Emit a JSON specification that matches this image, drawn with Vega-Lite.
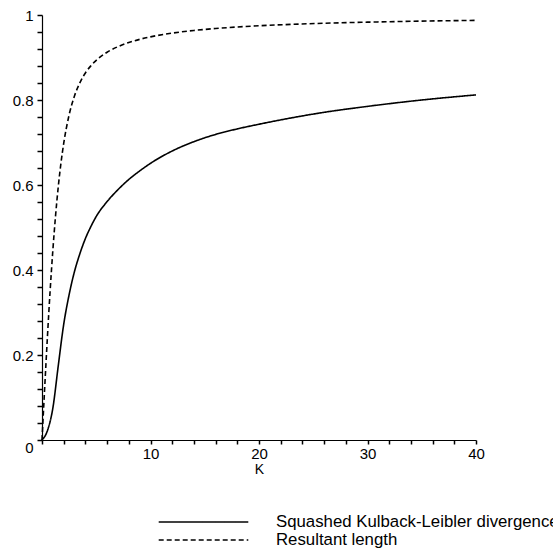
{
  "$schema": "https://vega.github.io/schema/vega-lite/v6.json",
  "width": 434,
  "height": 425,
  "autosize": {"type": "none"},
  "padding": {"left": 42, "top": 15, "right": 77, "bottom": 108},
  "background": "white",
  "config": {
    "view": {"stroke": null},
    "font": "Liberation Sans",
    "axis": {"grid": false, "domainColor": "black", "domainWidth": 1.2, "labelColor": "black", "titleColor": "black", "labelFont": "Liberation Sans", "titleFont": "Liberation Sans", "labelFontSize": 15, "labelOverlap": false}
  },
  "data": {
    "values": [
      {"k": 0, "v": 0, "s": "Squashed Kulback-Leibler divergence"},
      {"k": 0.5, "v": 0.022, "s": "Squashed Kulback-Leibler divergence"},
      {"k": 1, "v": 0.075, "s": "Squashed Kulback-Leibler divergence"},
      {"k": 1.5, "v": 0.175, "s": "Squashed Kulback-Leibler divergence"},
      {"k": 2, "v": 0.272, "s": "Squashed Kulback-Leibler divergence"},
      {"k": 2.5, "v": 0.342, "s": "Squashed Kulback-Leibler divergence"},
      {"k": 3, "v": 0.397, "s": "Squashed Kulback-Leibler divergence"},
      {"k": 3.5, "v": 0.439, "s": "Squashed Kulback-Leibler divergence"},
      {"k": 4, "v": 0.474, "s": "Squashed Kulback-Leibler divergence"},
      {"k": 4.5, "v": 0.502, "s": "Squashed Kulback-Leibler divergence"},
      {"k": 5, "v": 0.526, "s": "Squashed Kulback-Leibler divergence"},
      {"k": 6, "v": 0.561, "s": "Squashed Kulback-Leibler divergence"},
      {"k": 7, "v": 0.589, "s": "Squashed Kulback-Leibler divergence"},
      {"k": 8, "v": 0.613, "s": "Squashed Kulback-Leibler divergence"},
      {"k": 9, "v": 0.633, "s": "Squashed Kulback-Leibler divergence"},
      {"k": 10, "v": 0.651, "s": "Squashed Kulback-Leibler divergence"},
      {"k": 12, "v": 0.68, "s": "Squashed Kulback-Leibler divergence"},
      {"k": 14, "v": 0.702, "s": "Squashed Kulback-Leibler divergence"},
      {"k": 16, "v": 0.719, "s": "Squashed Kulback-Leibler divergence"},
      {"k": 18, "v": 0.732, "s": "Squashed Kulback-Leibler divergence"},
      {"k": 20, "v": 0.743, "s": "Squashed Kulback-Leibler divergence"},
      {"k": 23, "v": 0.758, "s": "Squashed Kulback-Leibler divergence"},
      {"k": 26, "v": 0.771, "s": "Squashed Kulback-Leibler divergence"},
      {"k": 30, "v": 0.785, "s": "Squashed Kulback-Leibler divergence"},
      {"k": 35, "v": 0.8, "s": "Squashed Kulback-Leibler divergence"},
      {"k": 40, "v": 0.812, "s": "Squashed Kulback-Leibler divergence"},
      {"k": 0, "v": 0, "s": "Resultant length"},
      {"k": 0.25, "v": 0.124, "s": "Resultant length"},
      {"k": 0.5, "v": 0.2425, "s": "Resultant length"},
      {"k": 0.75, "v": 0.3515, "s": "Resultant length"},
      {"k": 1, "v": 0.4464, "s": "Resultant length"},
      {"k": 1.25, "v": 0.528, "s": "Resultant length"},
      {"k": 1.5, "v": 0.5961, "s": "Resultant length"},
      {"k": 1.75, "v": 0.6521, "s": "Resultant length"},
      {"k": 2, "v": 0.6978, "s": "Resultant length"},
      {"k": 2.5, "v": 0.765, "s": "Resultant length"},
      {"k": 3, "v": 0.81, "s": "Resultant length"},
      {"k": 3.5, "v": 0.8411, "s": "Resultant length"},
      {"k": 4, "v": 0.8635, "s": "Resultant length"},
      {"k": 4.5, "v": 0.8803, "s": "Resultant length"},
      {"k": 5, "v": 0.8934, "s": "Resultant length"},
      {"k": 6, "v": 0.9124, "s": "Resultant length"},
      {"k": 7, "v": 0.9255, "s": "Resultant length"},
      {"k": 8, "v": 0.9352, "s": "Resultant length"},
      {"k": 9, "v": 0.9427, "s": "Resultant length"},
      {"k": 10, "v": 0.9486, "s": "Resultant length"},
      {"k": 12, "v": 0.9574, "s": "Resultant length"},
      {"k": 14, "v": 0.9636, "s": "Resultant length"},
      {"k": 16, "v": 0.9682, "s": "Resultant length"},
      {"k": 18, "v": 0.9718, "s": "Resultant length"},
      {"k": 20, "v": 0.9747, "s": "Resultant length"},
      {"k": 23, "v": 0.978, "s": "Resultant length"},
      {"k": 26, "v": 0.9806, "s": "Resultant length"},
      {"k": 30, "v": 0.9832, "s": "Resultant length"},
      {"k": 35, "v": 0.9856, "s": "Resultant length"},
      {"k": 40, "v": 0.9874, "s": "Resultant length"}
    ]
  },
  "mark": {"type": "line", "color": "black", "strokeWidth": 1.6, "interpolate": "monotone", "clip": false},
  "encoding": {
    "x": {
      "field": "k", "type": "quantitative",
      "scale": {"domain": [0, 40], "nice": false, "zero": false},
      "axis": {
        "title": "K", "titleFontSize": 14, "titleFontWeight": "normal", "titlePadding": 1,
        "values": [0, 2, 4, 6, 8, 10, 12, 14, 16, 18, 20, 22, 24, 26, 28, 30, 32, 34, 36, 38, 40],
        "labelExpr": "datum.value % 10 == 0 && datum.value > 0 ? datum.label : ''",
        "labelFlush": false, "ticks": true, "tickColor": "black", "tickWidth": 1.5, "tickSize": 4, "labelPadding": 2
      }
    },
    "y": {
      "field": "v", "type": "quantitative",
      "scale": {"domain": [0, 1], "nice": false},
      "axis": {
        "title": null,
        "values": [0, 0.04, 0.08, 0.12, 0.16, 0.2, 0.24, 0.28, 0.32, 0.36, 0.4, 0.44, 0.48, 0.52, 0.56, 0.6, 0.64, 0.68, 0.72, 0.76, 0.8, 0.84, 0.88, 0.92, 0.96, 1],
        "labelExpr": "abs(datum.value * 5 - round(datum.value * 5)) < 0.001 ? format(datum.value, '.1~f') : ''",
        "labelFlush": false, "ticks": true, "tickColor": "black", "tickWidth": 1.5, "tickSize": 5, "labelPadding": 4,
        "labelBaseline": {"condition": {"test": "datum.value == 0", "value": "top"}, "value": "middle"}
      }
    },
    "strokeDash": {
      "field": "s", "type": "nominal",
      "scale": {"domain": ["Squashed Kulback-Leibler divergence", "Resultant length"], "range": [[1, 0], [5, 3]]},
      "legend": {
        "title": null, "orient": "none", "legendX": 152.5, "legendY": 498,
        "symbolType": "M-5.6,0H5.6", "symbolSize": 256, "symbolStrokeWidth": 1.6, "symbolStrokeColor": "black", "symbolFillColor": "transparent",
        "labelFontSize": 16.8, "labelOffset": 63.5, "labelLimit": 500, "padding": 0, "symbolOffset": 0, "rowPadding": 0,
        "labelColor": "black", "labelFont": "Liberation Sans"
      }
    }
  }
}
